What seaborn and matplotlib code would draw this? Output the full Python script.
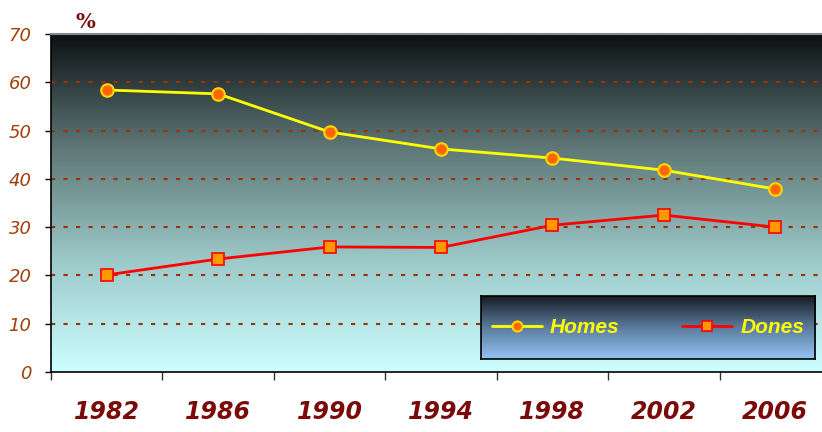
import numpy as np
import pandas as pd
import seaborn as sns
import matplotlib.pyplot as plt
from matplotlib.colors import LinearSegmentedColormap

sns.set_style("white")

years = ["1982", "1986", "1990", "1994", "1998", "2002", "2006"]
homes = [58.4, 57.6, 49.7, 46.2, 44.3, 41.8, 37.9]
dones = [20.1, 23.4, 25.9, 25.8, 30.4, 32.5, 30.0]

df = pd.DataFrame({"pos": range(len(years)), "Homes": homes, "Dones": dones})

fig = plt.figure(figsize=(8.22, 4.32), dpi=100, facecolor="white")
W, H = 822, 432
ax = fig.add_axes([51 / W, 1 - 372 / H, (831 - 51) / W, (372 - 34) / H])

# gradient plot background
bg = LinearSegmentedColormap.from_list("bg", ["#ccffff", "#9cc8c8", "#5e7676", "#0c1113"])
grad = np.linspace(0, 1, 256).reshape(-1, 1)
ax.imshow(grad, cmap=bg, origin="lower", aspect="auto",
          extent=(-0.5, len(years) - 0.5, 0, 70), zorder=0)

for v in range(10, 80, 10):
    ax.axhline(v, color="#993300", lw=1.5, ls=(0, (2, 4)), zorder=1)

sns.lineplot(data=df, x="pos", y="Homes", ax=ax, color="#ffff00", lw=2,
             marker="o", markersize=9, markerfacecolor="#ff6600",
             markeredgecolor="#ffd700", markeredgewidth=1.5, zorder=3,
             label="Homes", legend=False)
sns.lineplot(data=df, x="pos", y="Dones", ax=ax, color="#ff0000", lw=2,
             marker="s", markersize=9, markerfacecolor="#ff9900",
             markeredgecolor="#ff0000", markeredgewidth=1.2, zorder=3,
             label="Dones", legend=False)

ax.set_xlim(-0.5, len(years) - 0.5)
ax.set_ylim(0, 70)
ax.set_xlabel("")
ax.set_ylabel("")
ax.set_xticks(range(len(years)))
ax.set_xticklabels(years)
ax.set_xticks(np.arange(-0.5, len(years), 1), minor=True)
ax.tick_params(axis="x", which="both", bottom=True)
ax.tick_params(axis="x", which="major", length=0, pad=20)
ax.tick_params(axis="x", which="minor", length=6, width=1, color="#333333", direction="out")
ax.set_yticks(range(0, 80, 10))
ax.tick_params(axis="y", left=True, length=4, width=1, color="black", direction="out", pad=10)
for lab in ax.get_xticklabels():
    lab.set_fontsize(17)
    lab.set_fontweight("bold")
    lab.set_fontstyle("italic")
    lab.set_color("#7a0a0a")
for lab in ax.get_yticklabels():
    lab.set_fontsize(13)
    lab.set_fontstyle("italic")
    lab.set_color("#a0400a")

for s in ["left", "bottom"]:
    ax.spines[s].set_color("black")
    ax.spines[s].set_linewidth(1.2)
ax.spines["top"].set_color("#888888")
ax.spines["top"].set_linewidth(1.5)
ax.spines["right"].set_visible(False)

fig.text(85 / W, 1 - 22 / H, "%", family="DejaVu Serif", fontweight="bold",
         fontsize=15, color="#7a1010", ha="center", va="center")

# legend box with gradient
lax = fig.add_axes([481 / W, 1 - 359 / H, (815 - 481) / W, (359 - 296) / H])
lg = LinearSegmentedColormap.from_list("lg", ["#94c4f4", "#5a7a9c", "#15191f"])
lax.imshow(grad, cmap=lg, origin="lower", aspect="auto", extent=(0, 1, 0, 1))
lax.set_xticks([])
lax.set_yticks([])
for s in lax.spines.values():
    s.set_color("black")
    s.set_linewidth(1.2)

handles, labels = ax.get_legend_handles_labels()
leg = fig.legend(handles, labels, loc="center", ncol=2, frameon=False,
                 bbox_to_anchor=((481 + 815) / 2 / W, 1 - (296 + 359) / 2 / H),
                 handlelength=2.4, columnspacing=3.0, handletextpad=0.4,
                 markerscale=0.8,
                 prop={"family": "Liberation Sans", "weight": "bold",
                       "style": "italic", "size": 15})
for t in leg.get_texts():
    t.set_color("#ffff00")

fig.savefig("out.png", dpi=100)
